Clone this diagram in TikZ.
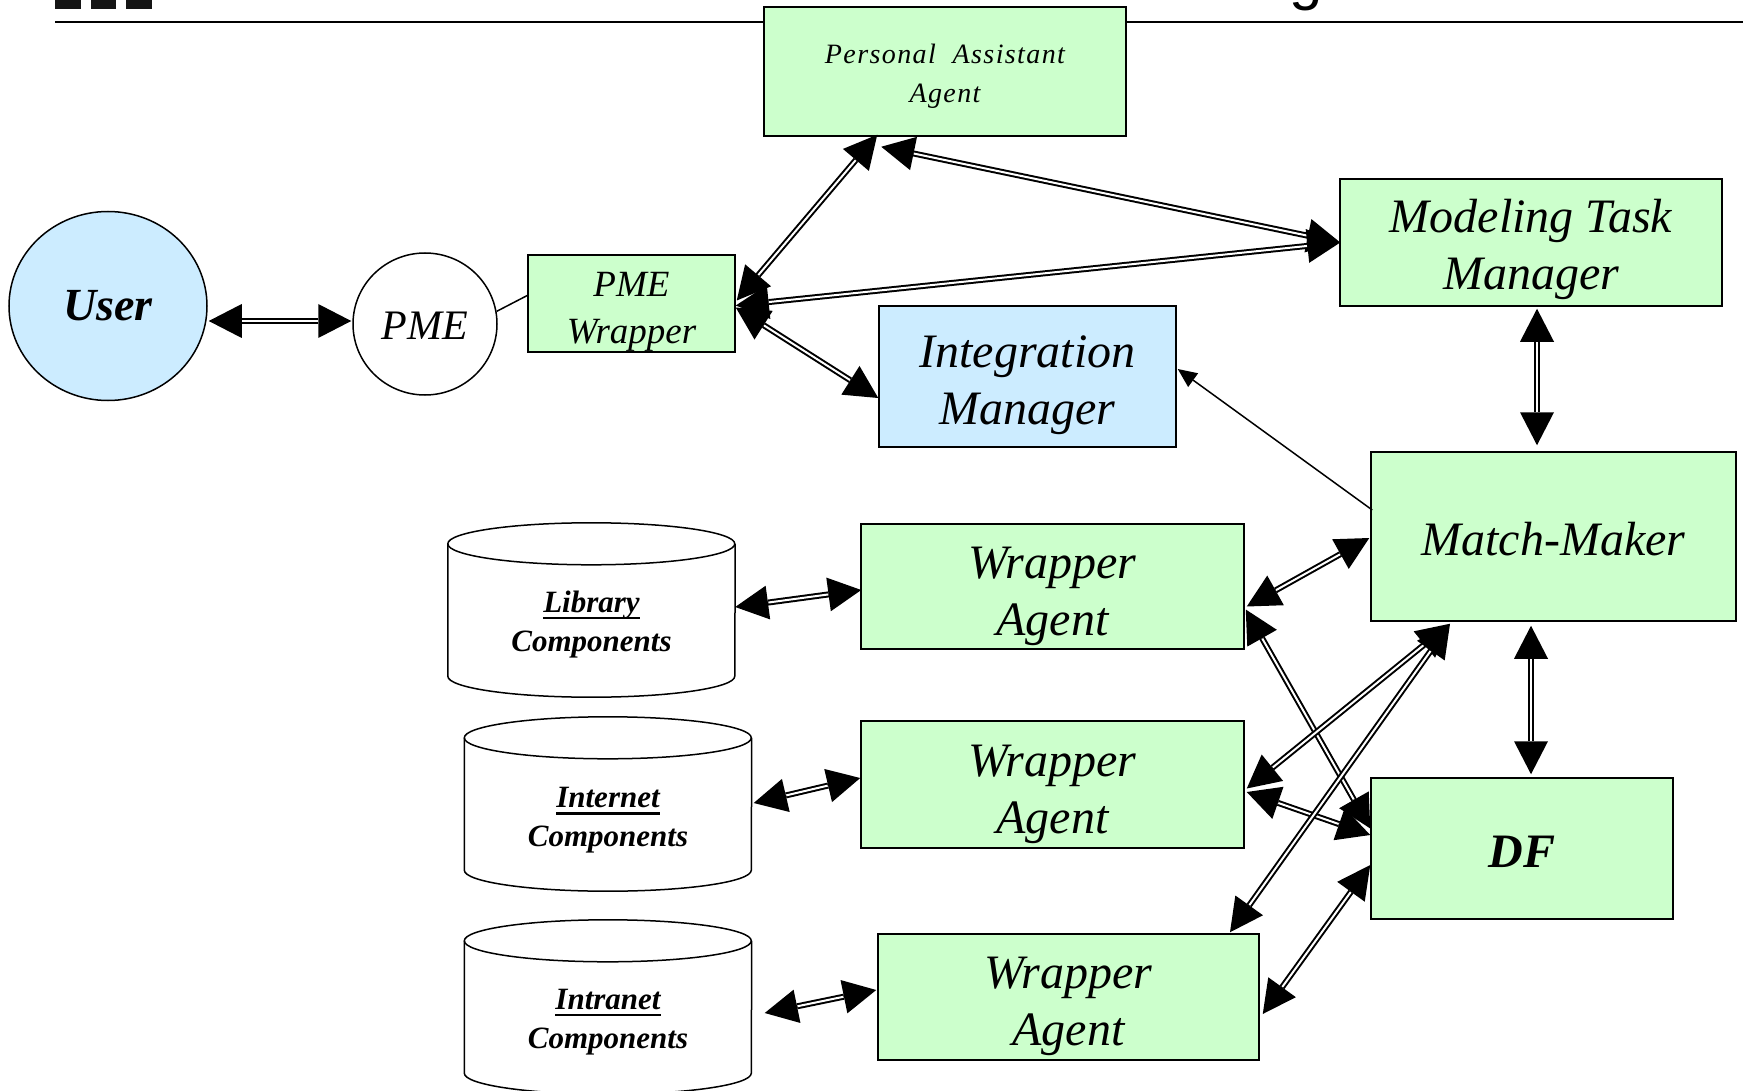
\documentclass[tikz,border=0pt]{standalone}
\usepackage{fontspec}
\setmainfont{Liberation Serif}
\newfontfamily\headfont{Liberation Sans}
\usetikzlibrary{arrows.meta,calc,shapes.geometric}
\definecolor{agentgreen}{RGB}{204,255,204}
\definecolor{mgrblue}{RGB}{204,236,255}
\definecolor{logodark}{RGB}{21,21,21}
% heavy underline for the first word of a repository label
\newcommand\ulword[1]{\setbox0\hbox{#1}\rlap{\raisebox{-7pt}{\rule{\wd0}{2.8pt}}}\box0}
% invisible strut that sets the height of a label's first line
\newcommand\topstrut[1]{\rule{0pt}{#1}}
\begin{document}
\begin{tikzpicture}[x=1pt,y=-1pt,
  box/.style={draw=black, line width=1.5pt, inner sep=0pt, align=center},
  greenbox/.style={box, fill=agentgreen},
  bluebox/.style={box, fill=mgrblue},
  bigtext/.style={font=\fontsize{48}{57}\selectfont\itshape},
  cyltext/.style={font=\fontsize{31}{39}\selectfont\bfseries\itshape, align=center, inner sep=0pt},
  cylline/.style={draw=black, line width=1.5pt},
  bigtip/.tip={Triangle[length=33pt,width=34pt,line width=0pt]},
  link/.style={line width=6pt, bigtip-bigtip,
    postaction={draw=white, line width=2pt, arrows=-, shorten <=33.5pt, shorten >=33.5pt}},
  thinlink/.style={line width=1.5pt, -{Triangle[length=19pt,width=17pt,line width=0pt]}}]

\useasboundingbox (0,0) rectangle (1743,1091);
\fill[white] (0,0) rectangle (1743,1091);

% slide header remnants
\draw[line width=2pt] (55,22) -- (1743,22);
\fill[logodark] (55,0) rectangle (81,9);
\fill[logodark] (91,0) rectangle (116,9);
\fill[logodark] (126,0) rectangle (152,9);
\node[font=\fontsize{60}{60}\selectfont\headfont, anchor=base west, inner sep=0pt] (titleg) at (1289,-1) {g};

% agents and managers
\node[greenbox, minimum width=362pt, minimum height=129pt,
      font=\fontsize{28}{39}\selectfont\itshape\addfontfeature{LetterSpace=5}] (pa) at (945,71.5) {\topstrut{28pt}Personal~~Assistant\\Agent};
\node[ellipse, draw=black, line width=1.5pt, fill=mgrblue, minimum width=198pt, minimum height=189pt, inner sep=0pt,
      font=\fontsize{46}{46}\selectfont\bfseries\itshape] (user) at (108,306) {User};
\node[ellipse, draw=black, line width=1.5pt, fill=white, minimum width=144pt, minimum height=142pt, inner sep=0pt,
      font=\fontsize{42}{42}\selectfont\itshape] (pme) at (425,324) {\topstrut{32pt}PME};
\node[greenbox, minimum width=207pt, minimum height=97pt,
      font=\fontsize{37}{47}\selectfont\itshape] (wrap) at (631.5,303.5) {\topstrut{41pt}PME\\Wrapper};
\node[bluebox, bigtext, minimum width=297pt, minimum height=141pt] (im) at (1027.5,376.5) {\topstrut{49pt}Integration\\Manager};
\node[greenbox, bigtext, minimum width=382pt, minimum height=127pt] (mtm) at (1531,242.5) {\topstrut{47pt}Modeling Task\\Manager};
\node[greenbox, bigtext, minimum width=365pt, minimum height=169pt] (mm) at (1553.5,536.5) {\topstrut{39pt}Match-Maker};
\node[greenbox, minimum width=302pt, minimum height=141pt,
      font=\fontsize{48}{57}\selectfont\bfseries\itshape] (df) at (1522,848.5) {\topstrut{38pt}DF};
\node[greenbox, bigtext, minimum width=383pt, minimum height=125pt] (wa1) at (1052.5,586.5) {\topstrut{51pt}Wrapper\\Agent};
\node[greenbox, bigtext, minimum width=383pt, minimum height=127pt] (wa2) at (1052.5,784.5) {\topstrut{51pt}Wrapper\\Agent};
\node[greenbox, bigtext, minimum width=381pt, minimum height=126pt] (wa3) at (1068.5,997) {\topstrut{51pt}Wrapper\\Agent};

% component repositories (cylinders)
\node[minimum width=287pt, minimum height=174pt, inner sep=0pt] (lib) at (591.5,610) {};
\node[minimum width=287pt, minimum height=174pt, inner sep=0pt] (inet) at (608,804) {};
\node[minimum width=287pt, minimum height=174pt, inner sep=0pt] (intra) at (608,1007) {};
\foreach \c in {lib,inet,intra}{
  \draw[cylline] ([yshift=-21pt]\c.north west) arc[start angle=180, end angle=-180, x radius=143.5pt, y radius=21pt];
  \draw[cylline] ([yshift=-21pt]\c.north west) -- ([yshift=21pt]\c.south west)
     arc[start angle=180, end angle=360, x radius=143.5pt, y radius=21pt] -- ([yshift=-21pt]\c.north east);
}
\node[cyltext] (libtxt) at ($(lib.center)+(0,14.5)$) {\ulword{Library}\\Components};
\node[cyltext] (inettxt) at ($(inet.center)+(0,16.5)$) {\ulword{Internet}\\Components};
\node[cyltext] (intratxt) at ($(intra.center)+(0,15)$) {\ulword{Intranet}\\Components};

% connectors
\draw[line width=1.5pt] (pme.10) -- ($(wrap.west)+(0,-8)$);
\draw[link] ($(user.east)+(1,15)$) -- ($(pme.west)+(-1,-3)$);
\draw[link] ($(wrap.east)+(1,-3)$) -- ($(pa.south west)+(114,-2)$);
\draw[link] ($(pa.south west)+(118,10)$) -- ($(mtm.west)+(1,0)$);
\draw[link] ($(wrap.east)+(0,2)$) -- ($(mtm.west)+(1,0)$);
\draw[link] ($(wrap.east)+(0,4)$) -- ($(im.west)+(0,21.5)$);
\draw[link] ($(mtm.south)+(6,2)$) -- ($(mm.north)+(-16.5,-6)$);
\draw[thinlink] ($(mm.west)+(2,-26.5)$) -- ($(im.east)+(1,-7.5)$);
\draw[link] ($(wa1.east)+(2,20)$) -- ($(mm.west)+(-1,1.5)$);
\draw[link] ($(wa1.east)+(1,23)$) -- ($(df.west)+(0,-20)$);
\draw[link] ($(wa2.east)+(2,4)$) -- ($(mm.south)+(-103.5,2)$);
\draw[link] ($(wa2.east)+(2,7.5)$) -- ($(df.west)+(0,-13.5)$);
\draw[link] ($(wa3.north)+(161.5,-1)$) -- ($(mm.south)+(-103.5,2)$);
\draw[link] ($(wa3.east)+(3,17)$) -- ($(df.west)+(0,16.5)$);
\draw[link] ($(mm.south)+(-22.5,4)$) -- ($(df.north)+(9,-3)$);
\draw[link] ($(lib.east)+(0,-3)$) -- ($(wa1.west)+(1,3.5)$);
\draw[link] ($(inet.east)+(2,-1)$) -- ($(wa2.west)+(0,-6.5)$);
\draw[link] ($(intra.east)+(13,6)$) -- ($(wa3.west)+(-1,-7)$);
\end{tikzpicture}
\end{document}
